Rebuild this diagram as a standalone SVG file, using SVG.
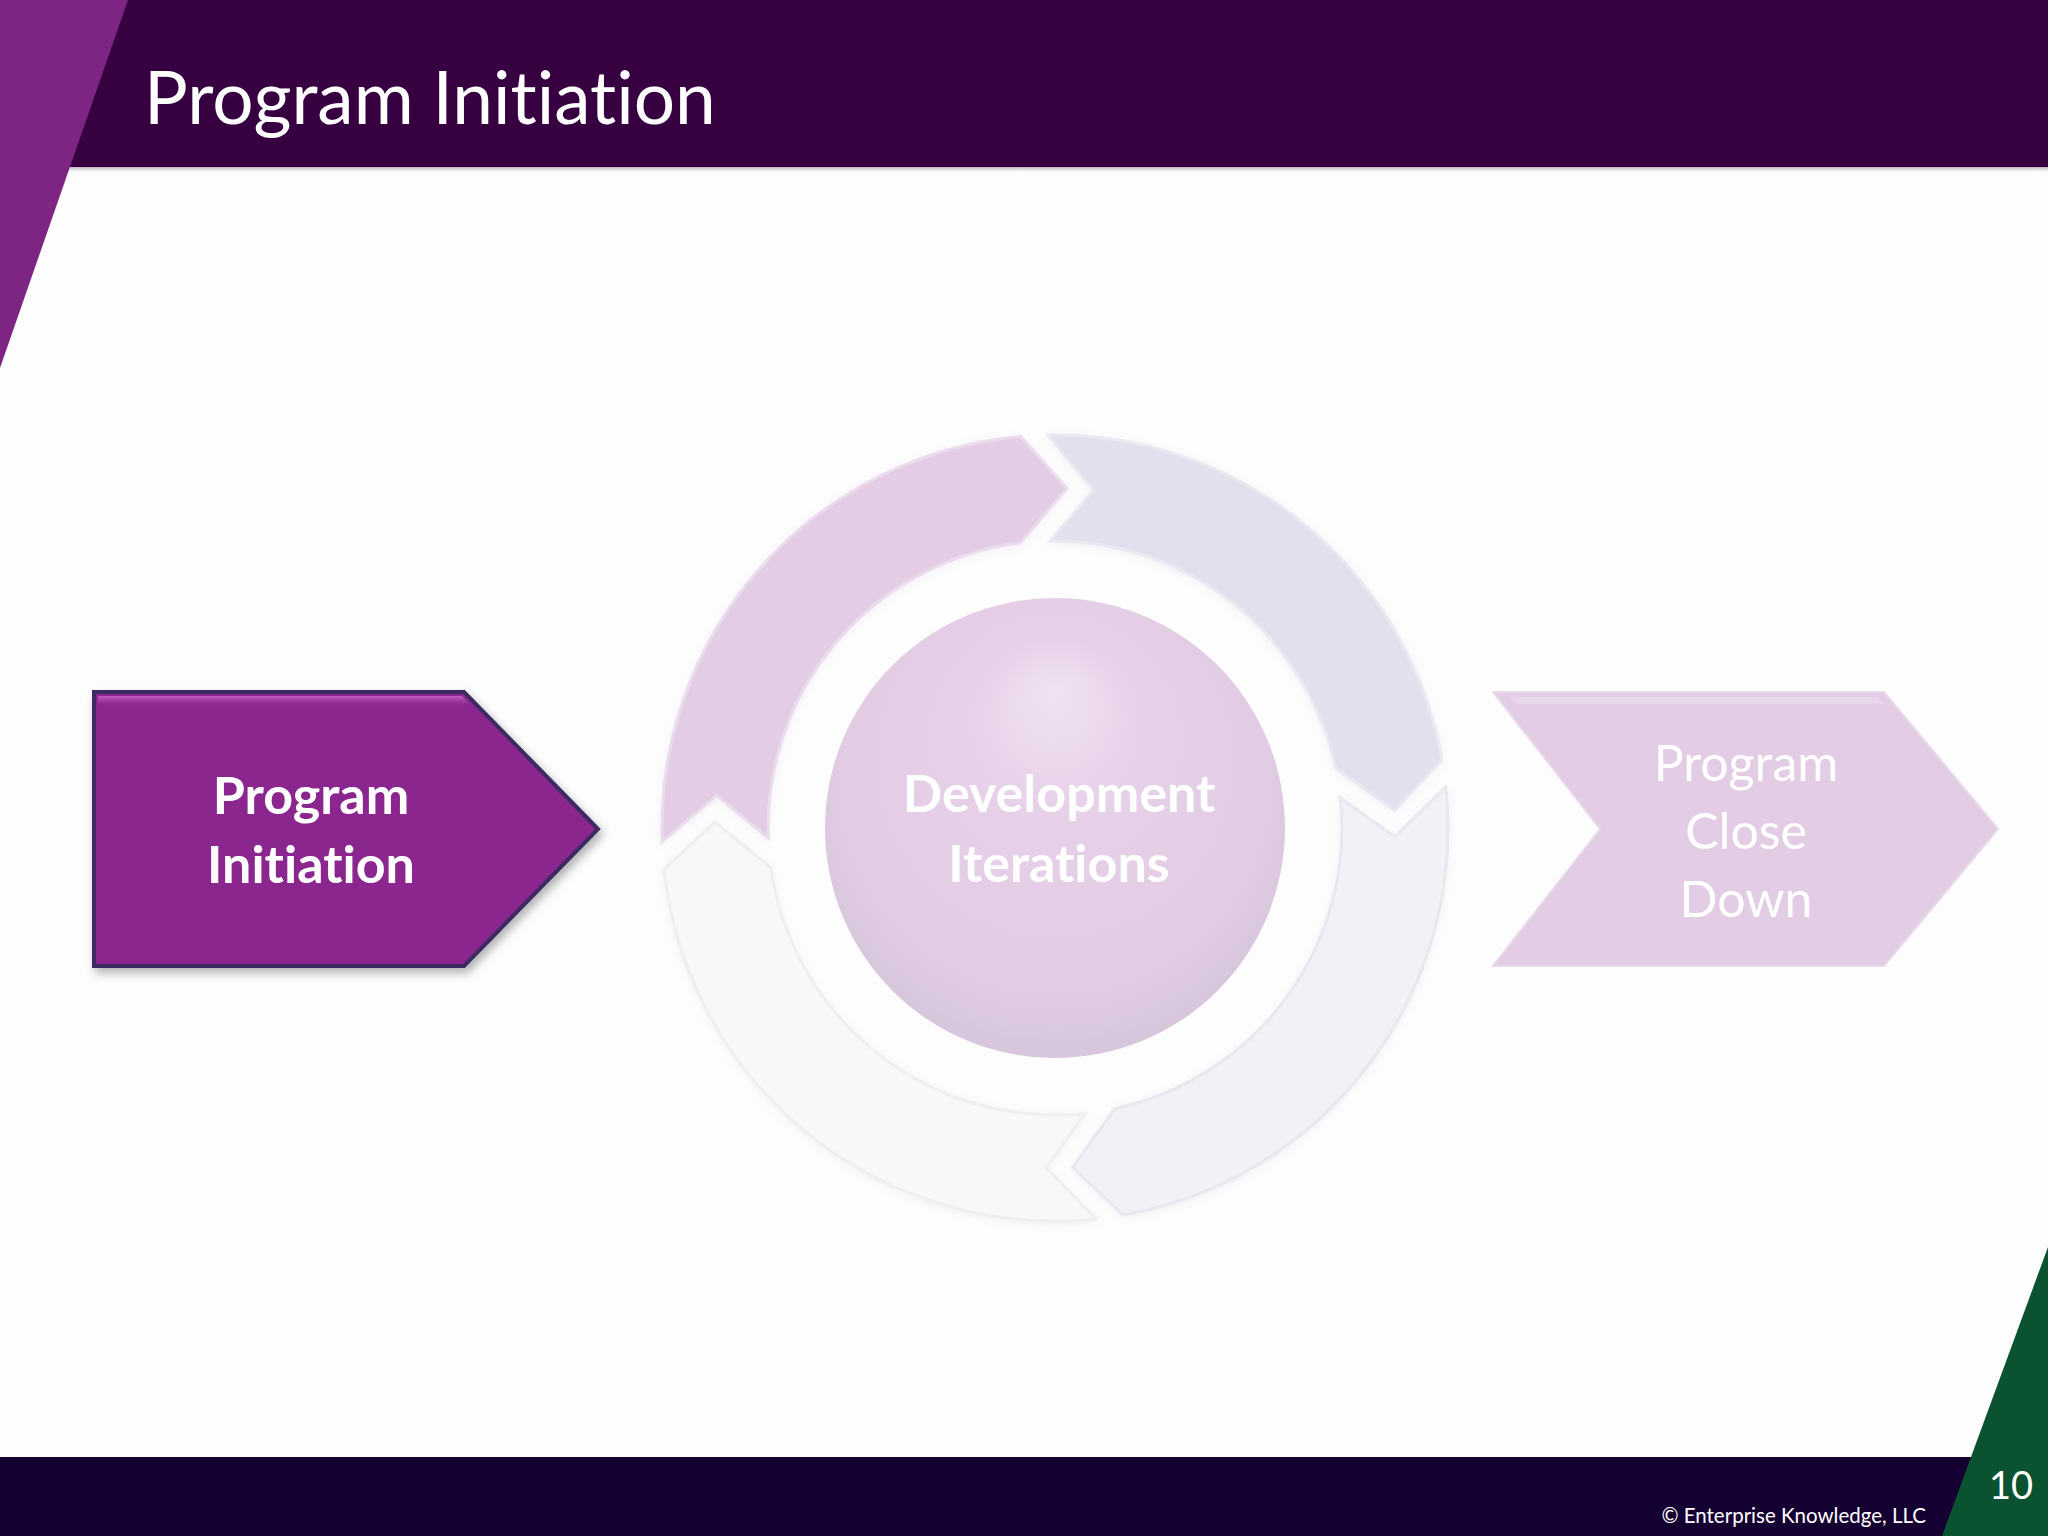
<svg xmlns="http://www.w3.org/2000/svg" width="2048" height="1536" viewBox="0 0 2048 1536">
  <defs>
    <style>
      .title { font-family: Lato, "Open Sans", "Liberation Sans", sans-serif; fill: #ffffff; font-variant-ligatures: none; font-feature-settings: "liga" 0, "dlig" 0; }
      .bold { font-weight: bold; }
      .seg { stroke-width: 3; }
      .mid { text-anchor: middle; }
    </style>
    <filter id="shadow" x="-10%" y="-10%" width="125%" height="130%">
      <feDropShadow dx="3" dy="5" stdDeviation="5" flood-color="#000000" flood-opacity="0.3"/>
    </filter>
    <filter id="soft" x="-10%" y="-10%" width="120%" height="120%">
      <feDropShadow dx="0" dy="2" stdDeviation="4" flood-color="#9a8aa0" flood-opacity="0.12"/>
    </filter>
    <linearGradient id="hdrShadow" x1="0" y1="0" x2="0" y2="1">
      <stop offset="0" stop-color="#b8b4ba"/>
      <stop offset="1" stop-color="#ffffff" stop-opacity="0"/>
    </linearGradient>
    <linearGradient id="arrowHi" x1="0" y1="0" x2="0" y2="1">
      <stop offset="0" stop-color="#c25ec6"/>
      <stop offset="1" stop-color="#8a278e" stop-opacity="0"/>
    </linearGradient>
    <radialGradient id="ball" cx="0.5" cy="0.42" r="0.55" fx="0.5" fy="0.2">
      <stop offset="0" stop-color="#f1e1f3"/>
      <stop offset="0.35" stop-color="#e6d1e8"/>
      <stop offset="0.85" stop-color="#e1cce3"/>
      <stop offset="1" stop-color="#d8c7dc"/>
    </radialGradient>
  </defs>

  <rect x="0" y="0" width="2048" height="1536" fill="#fefdfe"/>

  <!-- header -->
  <g id="header">
    <rect x="0" y="0" width="2048" height="167" fill="#370040"/>
    <rect x="0" y="167" width="2048" height="7" fill="url(#hdrShadow)"/>
    <polygon points="0,0 128,0 0,368" fill="#7e2482"/>
    <text class="title" x="144" y="124" font-size="73">Program Initiation</text>
  </g>

  <!-- footer -->
  <g id="footer">
    <rect x="0" y="1457" width="2048" height="79" fill="#150032"/>
    <polygon points="2048,1247 2048,1536 1942,1536" fill="#0b5231"/>
    <text class="title" x="1926" y="1523" font-size="20.5" text-anchor="end">© Enterprise Knowledge, LLC</text>
    <text class="title" x="2033" y="1499" font-size="38" text-anchor="end">10</text>
  </g>

  <!-- cycle ring -->
  <g id="cycle" filter="url(#soft)">
    <g id="seg-bottom-left">
      <path class="seg" d="M1096.1,1218.9 A393,393 0 0 1 664.2,869.1 L715.1,822.1 L770.8,867.9 A287,287 0 0 0 1085.0,1113.4 L1046.1,1167.9 Z" fill="#f9f7fa" stroke="#f1edf3"/>
    </g>
    <g id="seg-bottom-right">
      <path class="seg" d="M1445.8,786.9 A393,393 0 0 1 1123.2,1215.0 L1072.8,1167.5 L1114.7,1108.7 A287,287 0 0 0 1340.4,798.0 L1394.9,836.9 Z" fill="#f3f0f6" stroke="#ebe6ef"/>
    </g>
    <g id="seg-top-right">
      <path class="seg" d="M1048.1,435.1 A393,393 0 0 1 1442.0,759.8 L1394.5,810.2 L1335.7,768.3 A287,287 0 0 0 1050.0,541.0 L1093.5,490.2 Z" fill="#e3dfed" stroke="#ebe8f2"/>
    </g>
    <g id="seg-top-left">
      <path class="seg" d="M662.2,841.7 A393,393 0 0 1 1020.7,436.5 L1066.9,488.2 L1020.0,543.1 A287,287 0 0 0 768.2,838.0 L716.6,795.4 Z" fill="#e2cde5" stroke="#eadcec"/>
    </g>
  </g>

  <!-- nodes -->
  <g id="node-initiation" filter="url(#shadow)">
    <path d="M94,692 L464,692 L598,829 L464,966 L94,966 Z" fill="#8a278e" stroke="#3e2a62" stroke-width="4"/>
    <path d="M98,696 L462,696 L474,708 L98,708 Z" fill="url(#arrowHi)"/>
    <text class="title bold mid" x="311" y="814" font-size="52">Program</text>
    <text class="title bold mid" x="311" y="883" font-size="52">Initiation</text>
  </g>

  <g id="node-development">
    <circle cx="1055" cy="828" r="230" fill="url(#ball)"/>
    <text class="title bold mid" x="1059" y="812" font-size="52">Development</text>
    <text class="title bold mid" x="1059" y="882" font-size="52">Iterations</text>
  </g>

  <g id="node-closedown">
    <path d="M1493,692 L1884,692 L1998,829 L1884,966 L1493,966 L1600,829 Z" fill="#e2cde5" stroke="#e8d9ea" stroke-width="2"/>
    <path d="M1510,697 L1878,697 L1884,704 L1516,704 Z" fill="#e8d6ea"/>
    <text class="title mid" x="1746" y="781" font-size="50">Program</text>
    <text class="title mid" x="1746" y="849" font-size="50">Close</text>
    <text class="title mid" x="1746" y="917" font-size="50">Down</text>
  </g>
</svg>
